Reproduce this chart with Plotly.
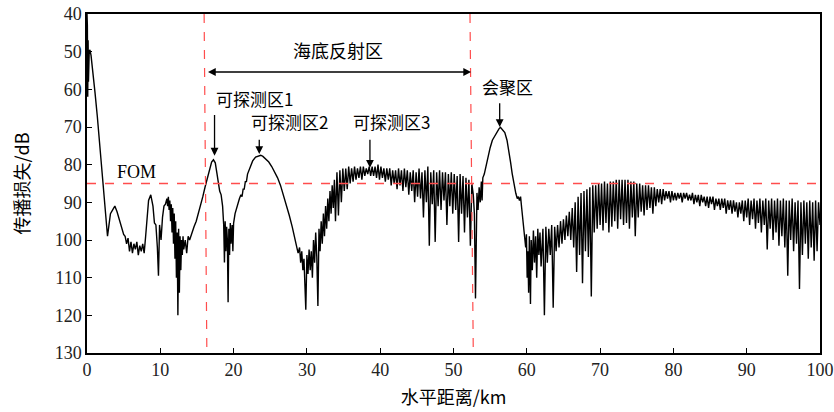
import plotly.graph_objects as go

# ---------------- data (range in km, transmission loss in dB) ----------------
range_near = [
    0.0, 0.05, 0.1, 0.15, 0.2, 0.3, 0.4, 0.55, 0.8, 1.1,
    1.4, 1.7, 2.0, 2.3, 2.55, 2.8, 3.0, 3.2, 3.5, 3.8,
    4.1, 4.4, 4.7, 5.0, 5.2, 5.4, 5.6, 5.8, 6.0, 6.2,
    6.4, 6.6, 6.8, 7.0, 7.2, 7.4, 7.6, 7.8, 8.0, 8.2,
    8.4, 8.7, 9.0, 9.2, 9.4, 9.6, 9.75, 9.9, 10.1, 10.3,
    10.5, 10.7, 10.9, 11.0, 11.1, 11.2, 11.3, 11.4, 11.5, 11.6,
    11.7, 11.8, 11.9, 12.0, 12.1, 12.2, 12.3, 12.4, 12.5, 12.6,
    12.7, 12.8, 12.9, 13.0, 13.1, 13.2, 13.4, 13.6, 13.8, 14.0,
    14.3, 14.6, 14.9, 15.2, 15.5, 15.8, 16.1, 16.4, 16.7]
loss_near = [
    40, 43, 62, 47, 58, 50, 49.5, 51, 55, 61,
    67, 74, 80, 87, 93, 99, 96, 93, 92, 91,
    92.5, 94.5, 97, 98.5, 99, 101, 99.5, 103, 100.5, 103.5,
    101, 102.5, 100.5, 104, 101.5, 103, 101, 103.5, 99, 93,
    89.5, 88, 91, 95.5, 96, 102, 109.5, 96, 100, 94,
    91, 90.5, 89, 91, 88.5, 92, 89.5, 95, 90.5, 98,
    91.5, 101, 93, 105, 95, 110, 98, 120, 97, 114,
    99, 108, 100, 104, 99, 102.5, 100, 103.5, 99, 100,
    98, 96.5, 95, 93, 91, 88.5, 86, 83.5, 81]

range_bottom_a = [
    17.0, 17.25, 17.5, 17.7, 17.9, 18.1, 18.3, 18.5, 18.65, 18.75,
    18.85, 18.95, 19.05, 19.15, 19.25, 19.35, 19.45, 19.55, 19.65, 19.8,
    19.9, 20.0, 20.2, 20.4, 20.6, 20.8, 21.0, 21.15, 21.3, 21.45,
    21.6, 21.75, 21.9, 22.1, 22.3, 22.6, 23.0, 23.4, 23.7, 24.0,
    24.4, 24.8, 25.2, 25.6, 26.0, 26.4, 26.8, 27.2, 27.6, 28.0,
    28.3, 28.6, 28.8, 29.0, 29.15, 29.3, 29.45, 29.6, 29.75, 29.85,
    30.0, 30.15, 30.3, 30.45, 30.6, 30.75, 30.9, 31.05, 31.2, 31.35,
    31.5, 31.65, 31.8, 31.95, 32.1, 32.25, 32.4, 32.55, 32.7, 32.85,
    33.0, 33.15, 33.3, 33.45, 33.6, 33.75, 33.9]
loss_bottom_a = [
    79.3, 78.7, 79.5, 82, 85, 87, 88, 91, 96, 106,
    95, 103, 96.5, 100, 116.5, 97, 104, 95.5, 101, 96,
    103, 95.5, 93, 91.5, 90, 89, 88, 88.5, 86.5, 86.5,
    84.5, 84.5, 82.5, 81.5, 80, 79, 78, 77.6, 77.5, 77.8,
    78.5, 79.3, 80.5, 82, 83.5, 85.5, 88, 90.5, 93.5, 96.5,
    99, 101, 103.5, 102, 106, 103, 108, 105, 112, 118.5,
    104, 109, 102.5, 108, 103, 110, 100, 106, 98, 104.5,
    117.5, 97, 103, 95, 101, 93, 99, 91, 97, 89,
    95, 87, 93, 85.5, 91.5, 84, 95]

range_bottom_b = [
    34.1, 34.3, 34.5, 34.7, 34.9, 35.1, 35.3, 35.5, 35.7, 35.9,
    36.1, 36.3, 36.5, 36.7, 36.9, 37.1, 37.3, 37.5, 37.7, 37.9,
    38.1, 38.3, 38.5, 38.7, 38.9, 39.1, 39.3, 39.5, 39.7, 39.9,
    40.1, 40.3, 40.5, 40.7, 40.9, 41.1, 41.3, 41.5, 41.7, 41.9,
    42.1, 42.3, 42.5, 42.7, 42.9, 43.1, 43.3, 43.5, 43.7, 43.9,
    44.1, 44.3, 44.5, 44.7, 44.9, 45.1, 45.3, 45.5, 45.7, 45.9,
    46.1, 46.3, 46.5, 46.7, 46.9, 47.1, 47.3, 47.5, 47.7, 47.9,
    48.1, 48.3, 48.5, 48.7, 48.9, 49.1, 49.3, 49.5, 49.7, 49.9,
    50.1, 50.3, 50.5, 50.7, 50.9, 51.1, 51.3, 51.5, 51.7, 51.9,
    52.1, 52.3, 52.5, 52.7, 52.85, 53.0]
loss_bottom_b = [
    82, 93.5, 81.5, 90, 81, 87, 81, 86.5, 80.5, 85,
    81, 84.5, 80.5, 84, 81, 83.5, 80.5, 84, 80.5, 83,
    81, 82.5, 80.5, 83, 80.5, 83, 80.5, 83.5, 80, 84,
    80.5, 83.5, 81, 84.5, 81, 84, 81, 85.5, 81.5, 85,
    81.5, 86.5, 81, 85.5, 81.5, 87, 81, 86, 81.5, 88,
    82, 87, 81.5, 90, 82, 88.5, 81, 89, 82, 94,
    81.5, 90, 80.5, 101.5, 82, 90.5, 81.5, 100.5, 82, 91,
    81.5, 92, 82, 89.5, 82, 96, 82.5, 91, 82, 93,
    82.5, 92, 83, 100.5, 82.5, 93, 83, 98, 83.5, 94,
    84, 101.5, 85, 88, 93, 115.5]

range_convergence = [
    53.1, 53.2, 53.35, 53.5, 53.65, 53.8, 53.9, 54.0, 54.2, 54.4,
    54.6, 54.8, 55.0, 55.3, 55.6, 55.9, 56.2, 56.4, 56.7, 57.0,
    57.3, 57.55, 57.8, 58.0, 58.25, 58.5, 58.7, 58.85, 59.0, 59.15,
    59.3, 59.5, 59.7, 59.85, 59.95, 60.05, 60.15, 60.25, 60.35, 60.5,
    60.6, 60.75, 60.9, 61.05, 61.2, 61.35, 61.5, 61.65, 61.8, 61.95]
loss_convergence = [
    95, 87.5, 92, 86, 90, 84.5, 89.5, 83.5, 82.5, 80.5,
    79.5, 77.5, 75.5, 73.5, 72.5, 71.3, 70.5, 70.1, 70.8, 71.5,
    73.5, 76, 79.5, 82.3, 85.5, 87.6, 89, 88.5, 89.5, 88.5,
    91.5, 95.5, 99.5, 102, 98.5, 110, 103, 114, 99, 117,
    100, 108, 97.5, 106, 99, 110, 97, 104, 98, 107]

range_far = [
    62.2, 62.4, 62.6, 62.8, 63.0, 63.2, 63.4, 63.6, 63.8, 64.0,
    64.2, 64.4, 64.6, 64.8, 65.0, 65.2, 65.4, 65.6, 65.8, 66.0,
    66.2, 66.4, 66.6, 66.8, 67.0, 67.2, 67.4, 67.6, 67.8, 68.0,
    68.2, 68.4, 68.6, 68.8, 69.0, 69.2, 69.4, 69.6, 69.8, 70.0,
    70.2, 70.4, 70.6, 70.8, 71.0, 71.2, 71.4, 71.6, 71.8, 72.0,
    72.2, 72.4, 72.6, 72.8, 73.0, 73.2, 73.4, 73.6, 73.8, 74.0,
    74.2, 74.4, 74.6, 74.8, 75.0, 75.2, 75.4, 75.6, 75.8, 76.0,
    76.2, 76.4, 76.6, 76.8, 77.0, 77.2, 77.4, 77.6, 77.8, 78.0,
    78.2, 78.4, 78.6, 78.8, 79.0, 79.2, 79.4, 79.6, 79.8, 80.0,
    80.2, 80.4, 80.6, 80.8, 81.0, 81.2, 81.4, 81.6, 81.8, 82.0,
    82.2, 82.4, 82.6, 82.8, 83.0, 83.2, 83.4, 83.6, 83.8, 84.0,
    84.2, 84.4, 84.6, 84.8, 85.0, 85.2, 85.4, 85.6, 85.8, 86.0,
    86.2, 86.4, 86.6, 86.8, 87.0, 87.2, 87.4, 87.6, 87.8, 88.0,
    88.2, 88.4, 88.6, 88.8, 89.0, 89.2, 89.4, 89.6, 89.8, 90.0,
    90.2, 90.4, 90.6, 90.8, 91.0, 91.2, 91.4, 91.6, 91.8, 92.0,
    92.2, 92.4, 92.6, 92.8, 93.0, 93.2, 93.4, 93.6, 93.8, 94.0,
    94.2, 94.4, 94.6, 94.8, 95.0, 95.2, 95.4, 95.6, 95.8, 96.0,
    96.2, 96.4, 96.6, 96.8, 97.0, 97.2, 97.4, 97.6, 97.8, 98.0,
    98.2, 98.4, 98.6, 98.8, 99.0, 99.2, 99.4, 99.6, 99.8, 100.0]
loss_far = [
    97, 120, 96.5, 106, 97, 104, 96, 118, 96.5, 103,
    96, 102, 95, 101, 94.5, 100, 93.5, 99, 92.5, 100,
    91.5, 102, 90, 108.5, 88.5, 104, 87.5, 111.5, 87, 103,
    86.5, 104.5, 86, 115, 85.5, 98, 85.5, 97, 85, 96,
    85, 97.5, 84.5, 95.5, 85, 98, 84.5, 96.5, 84.5, 95,
    84, 97, 84, 94.5, 84, 96, 84, 95.5, 84, 97,
    84.5, 94, 84.5, 99, 85, 94, 85, 92.5, 85.5, 93.5,
    85.5, 92, 85.5, 91.5, 86, 93, 86, 91, 86.5, 90,
    86.5, 90.5, 86.5, 89.5, 87, 89, 87, 90, 87, 89.5,
    87.5, 89.5, 87.5, 89, 87.5, 90, 87.5, 89, 87.5, 89.5,
    88, 89.5, 87.5, 90.5, 88, 90, 88, 91, 88, 90,
    88.5, 91, 88.5, 91.5, 88.5, 90.5, 88.5, 92, 89, 91,
    89, 92, 89, 91.5, 89, 93, 89.5, 92, 89.5, 93,
    89.5, 92.5, 90, 94, 90, 93, 89.5, 95, 89.5, 94,
    89, 96, 89.5, 94.5, 89, 97, 89.5, 95.5, 89, 98,
    89.5, 96, 89, 102.5, 89.5, 97, 89, 100, 89.5, 98,
    89, 101.5, 89.5, 99, 89, 102, 89.5, 109.5, 89.5, 100,
    89, 103, 90, 101, 89.5, 113, 90, 104, 89.5, 101,
    90, 105, 89.5, 102, 90, 105.5, 89.5, 103, 90, 96]

segments = [(range_near, loss_near), (range_bottom_a, loss_bottom_a),
            (range_bottom_b, loss_bottom_b), (range_convergence, loss_convergence),
            (range_far, loss_far)]
range_km, loss_db = [], []
for xs, ys in segments:
    assert len(xs) == len(ys), (len(xs), len(ys), xs[0])
    range_km += xs
    loss_db += ys

fom_db = 85
zone_bounds_top = [15.98, 52.25]
zone_bounds_bottom = [16.35, 52.7]

x_ticks = [0, 10, 20, 30, 40, 50, 60, 70, 80, 90, 100]
y_ticks = [40, 50, 60, 70, 80, 90, 100, 110, 120, 130]

# labels: text, x, y
zone_labels = [("可探测区1", 22.8, 62.3), ("可探测区2", 27.6, 68.6),
               ("可探测区3", 41.6, 68.6), ("会聚区", 57.4, 59.3)]
# pointer arrows: x, tail y, tip y
pointers = [(17.4, 66.4, 77.6), (23.5, 73.0, 77.2), (38.6, 73.0, 80.8), (56.3, 63.3, 70.0)]

SERIF = '"Liberation Serif", "DejaVu Serif", serif'
CJK = '"Noto Sans CJK SC", "Liberation Serif", serif'

fig = go.Figure()
fig.add_trace(go.Scatter(x=range_km, y=loss_db, mode="lines",
                         line=dict(color="black", width=1.4), showlegend=False,
                         hoverinfo="skip"))

red = "#ff4d4d"
fig.add_shape(type="line", xref="x", yref="y", x0=0, x1=100, y0=fom_db, y1=fom_db,
              line=dict(color=red, width=1.5, dash="dash"), layer="above")
for xt, xb in zip(zone_bounds_top, zone_bounds_bottom):
    fig.add_shape(type="line", xref="x", yref="y", x0=xt, x1=xb, y0=40, y1=130,
                  line=dict(color=red, width=1.2, dash="dash"), layer="above")

annotations = []
annotations.append(dict(x=52.4, y=55.4, ax=16.3, ay=55.4, xref="x", yref="y",
                        axref="x", ayref="y", text="", showarrow=True,
                        arrowhead=2, startarrowhead=2, arrowside="end+start",
                        arrowsize=1.2, arrowwidth=1.3, arrowcolor="black"))
annotations.append(dict(x=34.2, y=49.6, xref="x", yref="y", text="海底反射区",
                        showarrow=False, font=dict(family=CJK, size=18, color="black")))
annotations.append(dict(x=6.8, y=81.9, xref="x", yref="y", text="FOM",
                        showarrow=False, font=dict(family=SERIF, size=18, color="black")))
for txt, lx, ly in zone_labels:
    annotations.append(dict(x=lx, y=ly, xref="x", yref="y", text=txt, showarrow=False,
                            font=dict(family=CJK, size=17, color="black")))
for px, ty, hy in pointers:
    annotations.append(dict(x=px, y=hy, ax=px, ay=ty, xref="x", yref="y",
                            axref="x", ayref="y", text="", showarrow=True,
                            arrowhead=2, arrowsize=1.2, arrowwidth=1.3,
                            arrowcolor="black"))

fig.update_layout(
    width=834, height=412,
    margin=dict(l=87, r=14, t=14, b=59),
    paper_bgcolor="white", plot_bgcolor="white",
    annotations=annotations,
    font=dict(family=SERIF, size=18, color="black"),
)
fig.update_xaxes(range=[0, 100], tickvals=x_ticks, ticks="inside", ticklen=5,
                 tickwidth=1, tickcolor="black", showgrid=False, zeroline=False,
                 showline=True, linecolor="black", linewidth=1.5, mirror=True,
                 automargin=False,
                 tickfont=dict(family=SERIF, size=18, color="#222"),
                 title=dict(text="水平距离/km", font=dict(family=CJK, size=18), standoff=12))
fig.update_yaxes(range=[130, 40], tickvals=y_ticks, ticks="inside", ticklen=5,
                 tickwidth=1, tickcolor="black", showgrid=False, zeroline=False,
                 showline=True, linecolor="black", linewidth=1.5, mirror=True,
                 automargin=False,
                 tickfont=dict(family=SERIF, size=18, color="#222"),
                 title=dict(text="传播损失/dB", font=dict(family=CJK, size=18), standoff=20))

fig.write_html("out.html")
